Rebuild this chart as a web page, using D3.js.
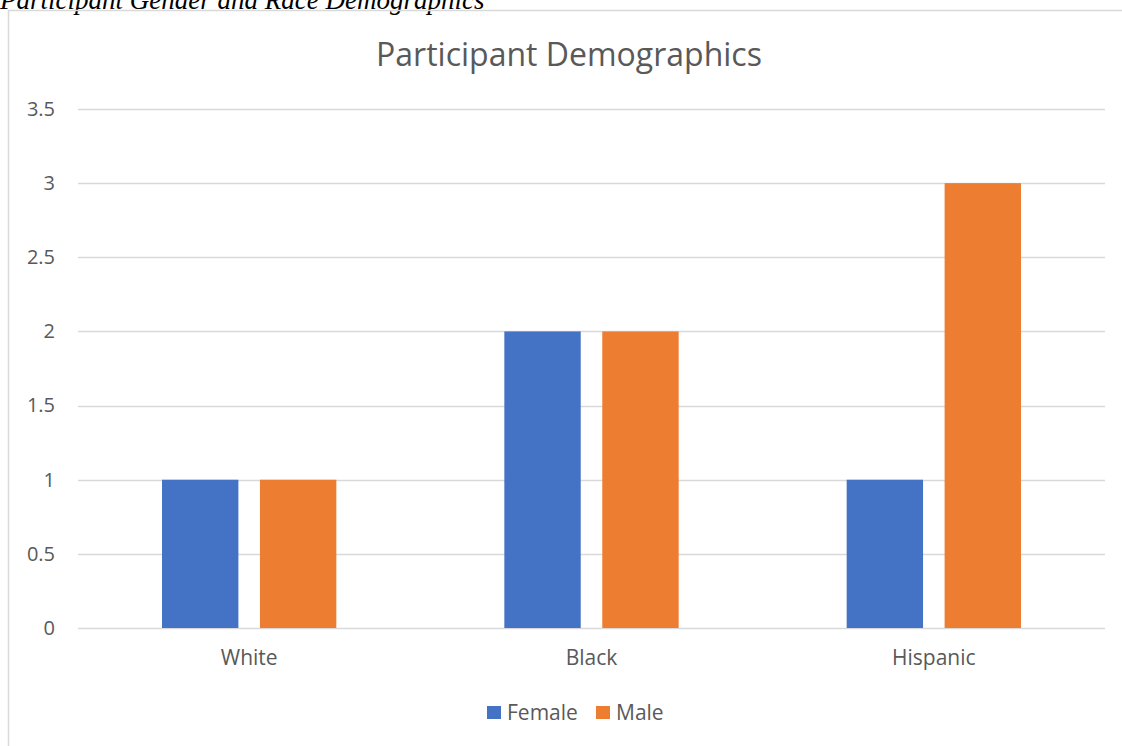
<!DOCTYPE html>
<html>
<head>
<meta charset="utf-8">
<script src="https://cdn.jsdelivr.net/npm/d3@7"></script>
<style>
  body { margin: 0; background: #fff; }
  svg { display: block; }
</style>
</head>
<body>
<div id="chart"></div>
<script>
// chart data
var categories = ["White", "Black", "Hispanic"];
var seriesNames = ["Female", "Male"];
var female = [1, 2, 1];
var male = [1, 2, 3];
var yTicks = [0, 0.5, 1, 1.5, 2, 2.5, 3, 3.5];
var colors = ["#4472C4", "#ED7D31"];

var W = 1122, H = 746;
var margin = { top: 109, right: 17, bottom: 118, left: 78 };
var width = W - margin.left - margin.right,
  height = H - margin.top - margin.bottom;
var font = "'Open Sans', 'Noto Sans', sans-serif";

var svg = d3.select("#chart")
  .append("svg")
  .attr("width", W)
  .attr("height", H);

// caption above the chart frame (clipped at top like the source)
svg.append("text")
  .attr("x", 0)
  .attr("y", 9)
  .style("font-family", "'Liberation Serif', 'Times New Roman', serif")
  .style("font-style", "italic")
  .style("font-size", "27px")
  .style("fill", "#000")
  .text("Participant Gender and Race Demographics");

// chart frame
svg.append("rect")
  .attr("x", 8.5)
  .attr("y", 10.5)
  .attr("width", W + 10)
  .attr("height", H + 10)
  .attr("fill", "none")
  .attr("stroke", "#d9d9d9")
  .attr("stroke-width", 1.5);

// title
svg.append("text")
  .attr("x", 569)
  .attr("y", 66)
  .attr("text-anchor", "middle")
  .style("font-family", font)
  .style("font-size", "32px")
  .style("fill", "#595959")
  .text("Participant Demographics");

var g = svg.append("g")
  .attr("transform", "translate(" + margin.left + "," + margin.top + ")");

var x0 = d3.scaleBand()
  .domain(categories)
  .range([0, width]);

var x1 = d3.scaleBand()
  .domain(seriesNames)
  .range([84, x0.bandwidth() - 84])
  .paddingInner(0.22);

var y = d3.scaleLinear()
  .domain([0, 3.5])
  .range([height, 0]);

// gridlines
g.append("g")
  .selectAll("line")
  .data(yTicks)
  .enter()
  .append("line")
  .attr("x1", 0)
  .attr("x2", width)
  .attr("y1", function (d) { return Math.round(y(d)) + 0.5; })
  .attr("y2", function (d) { return Math.round(y(d)) + 0.5; })
  .attr("stroke", "#d9d9d9")
  .attr("stroke-width", 1.3);

// y axis labels
var yAxis = g.append("g")
  .call(d3.axisLeft(y).tickValues(yTicks).tickSize(0).tickPadding(23)
    .tickFormat(function (d) { return String(d); }));
yAxis.select(".domain").remove();
yAxis.selectAll("text")
  .style("font-family", font)
  .style("font-size", "20px")
  .style("fill", "#595959");

// bars
var rows = categories.map(function (c, i) {
  return { cat: c, values: [female[i], male[i]] };
});

g.append("g")
  .selectAll("g")
  .data(rows)
  .enter()
  .append("g")
  .attr("transform", function (d) { return "translate(" + x0(d.cat) + ",0)"; })
  .selectAll("rect")
  .data(function (d) {
    return d.values.map(function (v, j) { return { key: seriesNames[j], value: v, idx: j }; });
  })
  .enter()
  .append("rect")
  .attr("x", function (d) { return x1(d.key); })
  .attr("y", function (d) { return y(d.value); })
  .attr("width", x1.bandwidth())
  .attr("height", function (d) { return height - y(d.value); })
  .attr("fill", function (d) { return colors[d.idx]; });

// x axis labels
var xAxis = g.append("g")
  .attr("transform", "translate(0," + height + ")")
  .call(d3.axisBottom(x0).tickSize(0).tickPadding(22));
xAxis.select(".domain").remove();
xAxis.selectAll("text")
  .style("font-family", font)
  .style("font-size", "21px")
  .style("fill", "#595959");

// legend
var legendX = [487, 596];
var legendTextX = [507, 616];
var legend = svg.append("g");
seriesNames.forEach(function (name, i) {
  legend.append("rect")
    .attr("x", legendX[i])
    .attr("y", 706)
    .attr("width", 14)
    .attr("height", 13)
    .attr("fill", colors[i]);
  legend.append("text")
    .attr("x", legendTextX[i])
    .attr("y", 720)
    .style("font-family", font)
    .style("font-size", "21px")
    .style("fill", "#595959")
    .text(name);
});
</script>
</body>
</html>
